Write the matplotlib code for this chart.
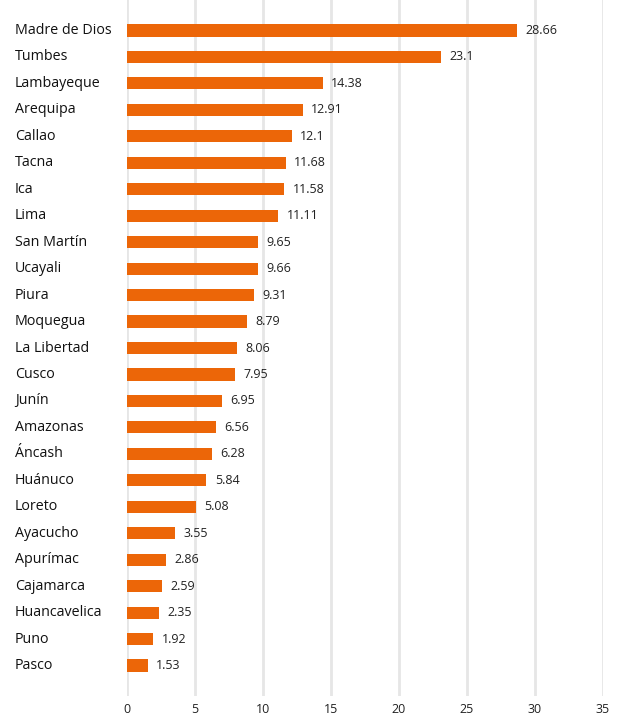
import matplotlib.pyplot as plt
import matplotlib.transforms as mtransforms

regiones = ["Madre de Dios", "Tumbes", "Lambayeque", "Arequipa", "Callao", "Tacna",
            "Ica", "Lima", "San Martín", "Ucayali", "Piura", "Moquegua", "La Libertad",
            "Cusco", "Junín", "Amazonas", "Áncash", "Huánuco", "Loreto", "Ayacucho",
            "Apurímac", "Cajamarca", "Huancavelica", "Puno", "Pasco"]
valores = [28.66, 23.1, 14.38, 12.91, 12.1, 11.68, 11.58, 11.11, 9.65, 9.66, 9.31,
           8.79, 8.06, 7.95, 6.95, 6.56, 6.28, 5.84, 5.08, 3.55, 2.86, 2.59, 2.35,
           1.92, 1.53]
x_ticks = [0, 5, 10, 15, 20, 25, 30, 35]

plt.rcParams['font.family'] = ['Open Sans', 'DejaVu Sans']

fig = plt.figure(figsize=(6.17, 7.18), dpi=100)
ax = fig.add_axes([127 / 617, 1 - 696 / 718, 476 / 617, 696 / 718])

pos = list(range(len(regiones)))
ax.barh(pos, valores, height=0.46, color='#EC6608', zorder=3)
ax.set_ylim(len(regiones) - 1 + 1.15, -1.15)
ax.set_xlim(0, 35)

ax.set_xticks(x_ticks)
ax.set_xticklabels([str(t) for t in x_ticks], fontsize=9, color='#222222')
ax.tick_params(axis='x', length=0, pad=5)
ax.set_yticks([])
ax.grid(axis='x', color='#E6E6E6', linewidth=2, zorder=0)
for s in ax.spines.values():
    s.set_visible(False)

# etiquetas de categoria alineadas a la izquierda
trans = mtransforms.blended_transform_factory(fig.transFigure, ax.transData)
for i, r in enumerate(regiones):
    fig.text(15 / 617, i, r, transform=trans, ha='left', va='center',
             fontsize=10.3, color='#111111')

# valores al final de cada barra
for i, v in enumerate(valores):
    ax.annotate(f"{v:g}", (v, i), textcoords="offset points", xytext=(6, 0),
                ha='left', va='center', fontsize=9, color='#222222')

plt.savefig("out.png", dpi=100)
